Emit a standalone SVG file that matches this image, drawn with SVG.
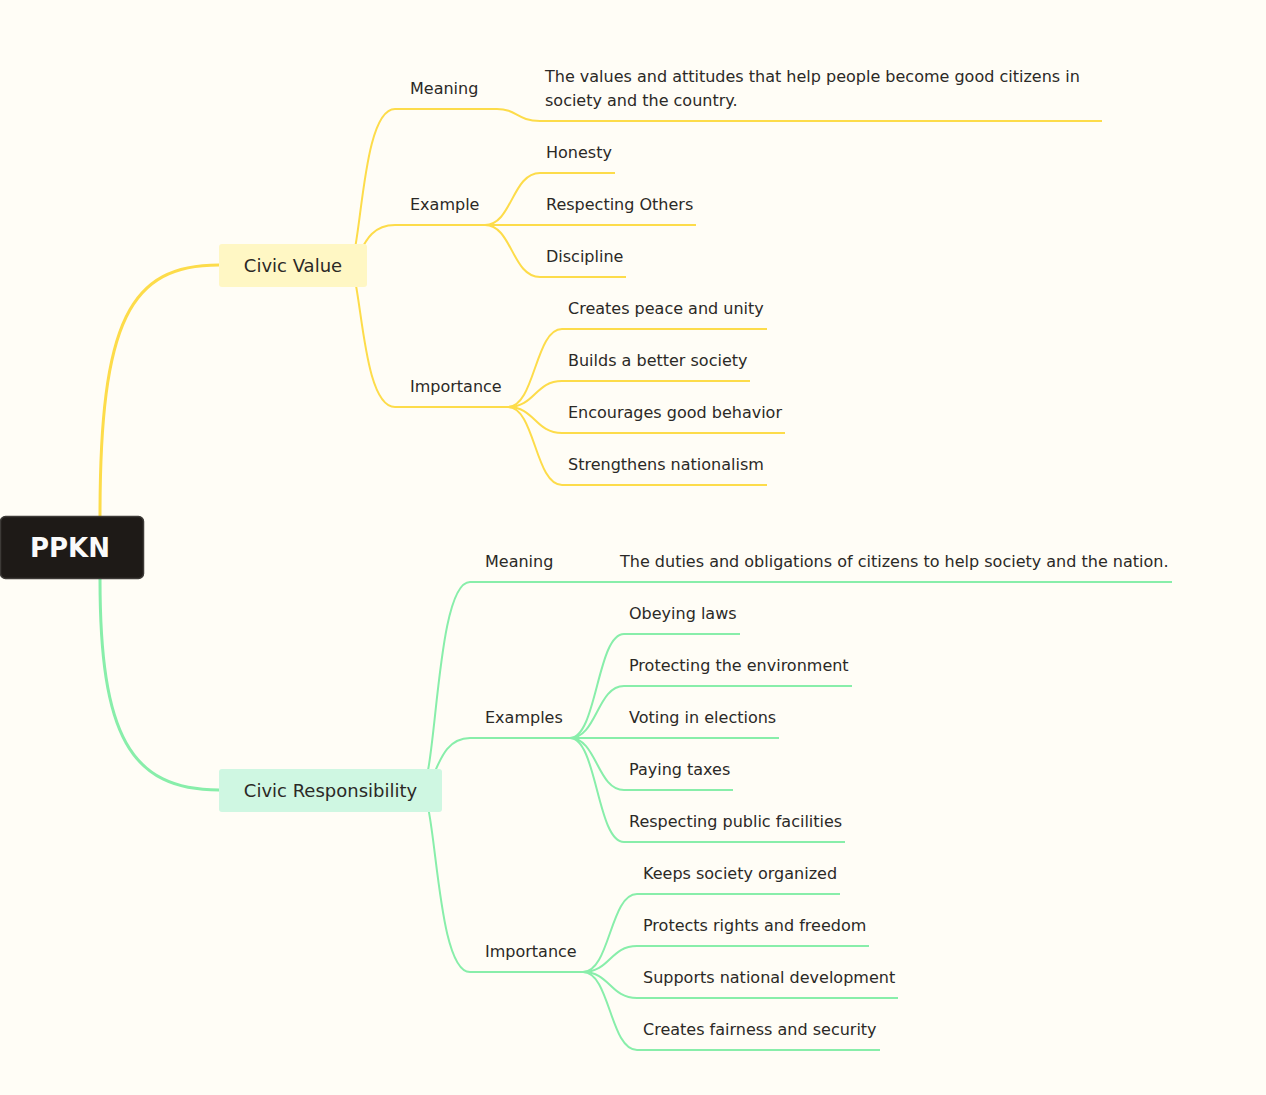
<svg xmlns="http://www.w3.org/2000/svg" width="1266" height="1095" viewBox="0 0 1266 1095">
<style>
text{font-family:"DejaVu Sans","Liberation Sans",sans-serif;fill:#2b2926}
.leaf{font-size:16px}
.br{font-size:18px;text-anchor:middle}
.y{fill:none;stroke:#fddc4a;stroke-width:2}
.g{fill:none;stroke:#88eeaa;stroke-width:2}
</style>
<rect width="1266" height="1095" fill="#fffdf6"/>
<g id="connectors">
<path class="y" d="M100,516 C100,320 130,265 219,265" style="stroke-width:3"/>
<path class="g" d="M100,579 C100,735 130,790 219,790" style="stroke-width:3"/>
<path class="y" d="M348,265 C362,265 360,109 395,109 L497,109 C517,109 517,121 540,121 L1102,121"/>
<path class="y" d="M348,265 C362,265 360,225 395,225 L485,225"/>
<path class="y" d="M348,265 C362,265 360,407 395,407 L508,407"/>
<path class="y" d="M485,225 C512,225 512,173 540,173 L615,173"/>
<path class="y" d="M485,225 L696,225"/>
<path class="y" d="M485,225 C512,225 512,277 540,277 L626,277"/>
<path class="y" d="M508,407 C535,407 535,329 562,329 L767,329"/>
<path class="y" d="M508,407 C535,407 535,381 562,381 L750,381"/>
<path class="y" d="M508,407 C535,407 535,433 562,433 L785,433"/>
<path class="y" d="M508,407 C535,407 535,485 562,485 L767,485"/>
<path class="g" d="M420,790 C437,790 435,582 470,582 L1172,582"/>
<path class="g" d="M420,790 C437,790 435,738 470,738 L570,738"/>
<path class="g" d="M420,790 C437,790 435,972 470,972 L583,972"/>
<path class="g" d="M570,738 C597,738 597,634 624,634 L740,634"/>
<path class="g" d="M570,738 C597,738 597,686 624,686 L852,686"/>
<path class="g" d="M570,738 L779,738"/>
<path class="g" d="M570,738 C597,738 597,790 624,790 L733,790"/>
<path class="g" d="M570,738 C597,738 597,842 624,842 L845,842"/>
<path class="g" d="M583,972 C610,972 610,894 637,894 L840,894"/>
<path class="g" d="M583,972 C610,972 610,946 637,946 L869,946"/>
<path class="g" d="M583,972 C610,972 610,998 637,998 L898,998"/>
<path class="g" d="M583,972 C610,972 610,1050 637,1050 L880,1050"/>
</g>
<g id="root">
<rect x="0.5" y="516.5" width="143" height="62" rx="5" fill="#1e1a17" stroke="#3d3a37" stroke-width="1.5"/>
<text x="70" y="557" style="font-size:26px;font-weight:bold;fill:#fafafa;text-anchor:middle">PPKN</text>
</g>
<g id="civic-value">
<rect x="219" y="244" width="148" height="43" rx="3" fill="#fff7c4"/>
<text class="br" x="293" y="272">Civic Value</text>
</g>
<g id="civic-responsibility">
<rect x="219" y="769" width="223" height="43" rx="3" fill="#cff7e2"/>
<text class="br" x="330.5" y="797">Civic Responsibility</text>
</g>
<g id="cv-meaning"><text class="leaf" x="410" y="94">Meaning</text></g>
<g id="cv-meaning-text"><text class="leaf" x="545" y="82">The values and attitudes that help people become good citizens in</text><text class="leaf" x="545" y="106">society and the country.</text></g>
<g id="cv-example"><text class="leaf" x="410" y="210">Example</text></g>
<g id="cv-honesty"><text class="leaf" x="546" y="158">Honesty</text></g>
<g id="cv-respecting"><text class="leaf" x="546" y="210">Respecting Others</text></g>
<g id="cv-discipline"><text class="leaf" x="546" y="262">Discipline</text></g>
<g id="cv-importance"><text class="leaf" x="410" y="392">Importance</text></g>
<g id="cv-peace"><text class="leaf" x="568" y="314">Creates peace and unity</text></g>
<g id="cv-better"><text class="leaf" x="568" y="366">Builds a better society</text></g>
<g id="cv-behavior"><text class="leaf" x="568" y="418">Encourages good behavior</text></g>
<g id="cv-national"><text class="leaf" x="568" y="470">Strengthens nationalism</text></g>
<g id="cr-meaning"><text class="leaf" x="485" y="567">Meaning</text></g>
<g id="cr-meaning-text"><text class="leaf" x="620" y="567">The duties and obligations of citizens to help society and the nation.</text></g>
<g id="cr-examples"><text class="leaf" x="485" y="723">Examples</text></g>
<g id="cr-laws"><text class="leaf" x="629" y="619">Obeying laws</text></g>
<g id="cr-env"><text class="leaf" x="629" y="671">Protecting the environment</text></g>
<g id="cr-voting"><text class="leaf" x="629" y="723">Voting in elections</text></g>
<g id="cr-taxes"><text class="leaf" x="629" y="775">Paying taxes</text></g>
<g id="cr-facilities"><text class="leaf" x="629" y="827">Respecting public facilities</text></g>
<g id="cr-importance"><text class="leaf" x="485" y="957">Importance</text></g>
<g id="cr-organized"><text class="leaf" x="643" y="879">Keeps society organized</text></g>
<g id="cr-rights"><text class="leaf" x="643" y="931">Protects rights and freedom</text></g>
<g id="cr-development"><text class="leaf" x="643" y="983">Supports national development</text></g>
<g id="cr-fairness"><text class="leaf" x="643" y="1035">Creates fairness and security</text></g>
</svg>
